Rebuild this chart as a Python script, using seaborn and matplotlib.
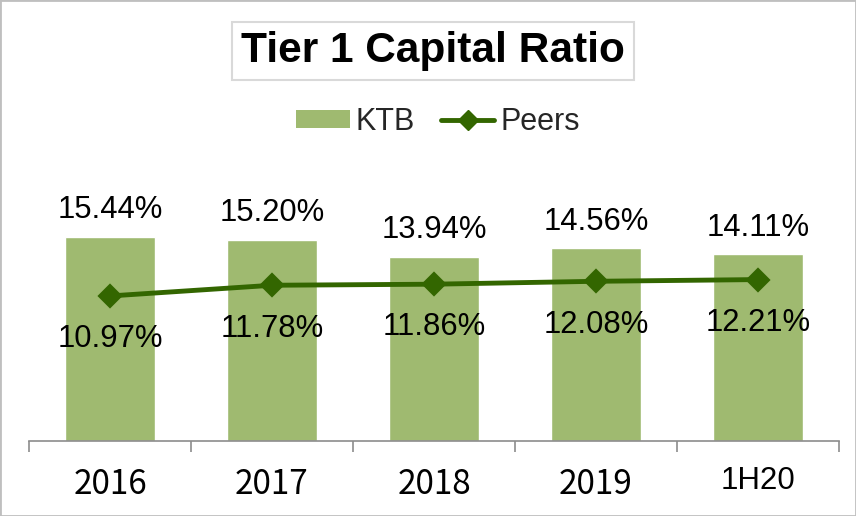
import matplotlib
matplotlib.use("Agg")
import matplotlib.pyplot as plt
import seaborn as sns
import pandas as pd
import numpy as np
from matplotlib.patches import Patch, Rectangle
from matplotlib.lines import Line2D

categories = ["2016", "2017", "2018", "2019", "1H20"]
ktb = [15.44, 15.20, 13.94, 14.56, 14.11]
peers = [10.97, 11.78, 11.86, 12.08, 12.21]

bar_color = "#9FBA70"
line_color = "#336600"

sns.set_theme(style="white")
plt.rcParams['font.family'] = ['Liberation Sans', 'DejaVu Sans']

df = pd.DataFrame({"cat": categories, "KTB": ktb, "Peers": peers})

fig = plt.figure(figsize=(8.56, 5.16), dpi=100)
ax = fig.add_axes([29/856, 75/516, 810/856, 236/516])

sns.barplot(data=df, x="cat", y="KTB", color=bar_color, width=0.555,
            saturation=1, ax=ax, zorder=1)
sns.pointplot(data=df, x="cat", y="Peers", color=line_color, marker="D",
              markersize=10, linewidth=3.5, ax=ax, zorder=3)

ax.set_ylim(0, 17.85)
ax.set_xlim(-0.5, 4.5)
ax.set_xlabel("")
ax.set_ylabel("")
ax.set_yticks([])
for s in ["top", "right", "left"]:
    ax.spines[s].set_visible(False)
ax.spines["bottom"].set_color("#8C8C8C")
ax.spines["bottom"].set_linewidth(1.2)

# ticks at category boundaries
ax.set_xticks(np.arange(-0.5, 5.0, 1.0))
ax.set_xticklabels([])
ax.tick_params(axis="x", which="major", direction="out", length=8, width=1.2,
               color="#8C8C8C", bottom=True)

# category labels
for i, c in enumerate(categories):
    if c == "1H20":
        fam, fs, off = ["Liberation Sans", "DejaVu Sans"], 22.5, -28.5
    else:
        fam, fs, off = ["Noto Sans CJK KR", "DejaVu Sans"], 24, -31.5
    ax.annotate(c, (i, 0), xycoords=("data", "axes fraction"),
                xytext=(0, off), textcoords="offset points",
                ha="center", va="center", fontsize=fs, family=fam,
                color="black", annotation_clip=False)

for i, v in enumerate(ktb):
    ax.annotate(f"{v:.2f}%", (i, v), xytext=(0, 13.5), textcoords="offset points",
                ha="center", va="baseline", fontsize=22.3, color="black")
for i, v in enumerate(peers):
    ax.annotate(f"{v:.2f}%", (i, v), xytext=(0, -36.9), textcoords="offset points",
                ha="center", va="baseline", fontsize=22.3, color="black")

# Title in a box
fig.text(433/856, 1 - 51/516, "Tier 1 Capital Ratio", ha="center", va="center",
         fontsize=30.5, fontweight="bold", color="black",
         bbox=dict(boxstyle="square,pad=0.22", facecolor="white",
                   edgecolor="#D9D9D9", linewidth=1.5))

handles = [Patch(facecolor=bar_color, edgecolor="none", label="KTB"),
           Line2D([0], [0], color=line_color, lw=3.5, marker="D", markersize=10,
                  label="Peers")]
fig.legend(handles=handles, loc="center", bbox_to_anchor=(438/856, 1 - 122/516),
           ncol=2, frameon=False, fontsize=22, handlelength=1.75,
           handleheight=0.55, handletextpad=0.2, columnspacing=0.85)

fig.patches.append(Rectangle((0, 0), 1, 1, transform=fig.transFigure,
                             fill=False, edgecolor="#BFBFBF", linewidth=2))

fig.savefig("out.png", dpi=100)
